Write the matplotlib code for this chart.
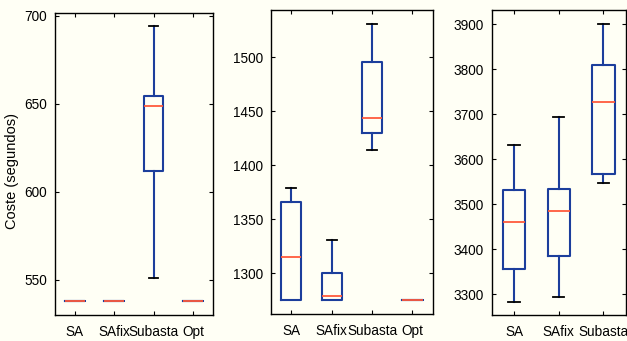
import matplotlib
matplotlib.use("Agg")
import matplotlib.pyplot as plt

plt.rcParams['font.family'] = ['Liberation Sans', 'DejaVu Sans']

BG = '#fffff5'
BOX = '#1c3e9c'
MED = '#ff5a3c'

# Panel 1
labels1 = ['SA', 'SAfix', 'Subasta', 'Opt']
whislo1 = [537.7, 537.7, 550.8, 537.7]
q1_1 = [537.7, 537.7, 611.8, 537.7]
med1 = [537.7, 537.7, 648.7, 537.7]
q3_1 = [537.7, 537.7, 654.2, 537.7]
whishi1 = [537.7, 537.7, 694.3, 537.7]
ticks1 = [550, 600, 650, 700]
ylim1 = (530, 701.5)

# Panel 2
labels2 = ['SA', 'SAfix', 'Subasta', 'Opt']
whislo2 = [1275.3, 1275.3, 1414.4, 1275.3]
q1_2 = [1275.3, 1275.3, 1430.2, 1275.3]
med2 = [1315.4, 1279.0, 1444.0, 1275.3]
q3_2 = [1366.0, 1300.0, 1495.6, 1275.3]
whishi2 = [1378.7, 1331.0, 1530.8, 1275.3]
ticks2 = [1300, 1350, 1400, 1450, 1500]
ylim2 = (1262.3, 1543.8)

# Panel 3
labels3 = ['SA', 'SAfix', 'Subasta']
whislo3 = [3283.6, 3294.0, 3548.4]
q1_3 = [3355.6, 3385.9, 3568.4]
med3 = [3461.3, 3485.9, 3726.6]
q3_3 = [3532.4, 3534.7, 3808.9]
whishi3 = [3631.8, 3693.3, 3900.7]
ticks3 = [3300, 3400, 3500, 3600, 3700, 3800, 3900]
ylim3 = (3254, 3931.8)

W, H = 627, 341
fig = plt.figure(figsize=(W / 100, H / 100), dpi=100, facecolor=BG)

def rect(l, r, t, b):
    return [l / W, (H - b) / H, (r - l) / W, (b - t) / H]

panels = [
    (rect(55, 212.7, 13, 315), labels1, whislo1, q1_1, med1, q3_1, whishi1, ticks1, ylim1),
    (rect(271, 432.7, 10, 314), labels2, whislo2, q1_2, med2, q3_2, whishi2, ticks2, ylim2),
    (rect(491.7, 625.7, 10, 315), labels3, whislo3, q1_3, med3, q3_3, whishi3, ticks3, ylim3),
]

axes = []
for pos, labels, wlo, q1, med, q3, whi, ticks, ylim in panels:
    ax = fig.add_axes(pos)
    ax.set_facecolor(BG)
    stats = []
    for i, lab in enumerate(labels):
        stats.append(dict(label=lab, whislo=wlo[i], q1=q1[i], med=med[i],
                          q3=q3[i], whishi=whi[i], fliers=[]))
    ax.bxp(stats, widths=0.5, capwidths=0.25, showfliers=False,
           boxprops=dict(color=BOX, linewidth=1.5, zorder=3),
           whiskerprops=dict(color=BOX, linewidth=1.5, zorder=2),
           capprops=dict(color='black', linewidth=1.3, zorder=2),
           medianprops=dict(color=MED, linewidth=1.3, zorder=4))
    ax.set_xlim(0.5, len(labels) + 0.5)
    ax.set_ylim(*ylim)
    ax.set_yticks(ticks)
    ax.set_yticklabels([str(t) for t in ticks])
    ax.tick_params(direction='in', top=True, right=True, length=3,
                   labelsize=9.8, colors='black', width=0.8, pad=5.5)
    ax.tick_params(axis='x', pad=7)
    for s in ax.spines.values():
        s.set_linewidth(1.0)
        s.set_color('black')
    axes.append(ax)

axes[0].set_ylabel('Coste (segundos)', fontsize=10.5)
axes[0].yaxis.set_label_coords(-0.228, 0.477)

fig.savefig('out.png', dpi=100, facecolor=BG)
